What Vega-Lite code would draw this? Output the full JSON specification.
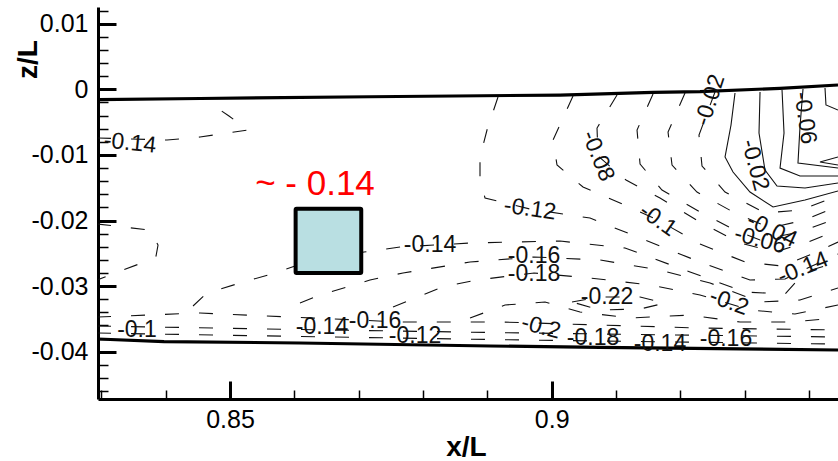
{
  "$schema": "https://vega.github.io/schema/vega-lite/v6.json",
  "width": 740,
  "height": 392,
  "autosize": {"type": "none"},
  "padding": {"left": 98, "top": 7, "right": 0, "bottom": 62},
  "background": "white",
  "config": {
    "view": {"stroke": null},
    "axis": {
      "domainColor": "black", "domainWidth": 3, "tickColor": "black", "grid": false,
      "labelFont": "Liberation Sans", "labelFontSize": 25, "labelColor": "black",
      "titleFont": "Liberation Sans", "titleFontSize": 28, "titleFontWeight": "bold", "titleColor": "black",
      "labelOverlap": false, "labelFlush": false, "labelBound": false
    }
  },
  "datasets": {
    "dashed": [
      {"c":"D1","o":1,"x":0.82933,"y":-0.00742},{"c":"D1","o":2,"x":0.84021,"y":-0.00773},{"c":"D1","o":3,"x":0.84534,"y":-0.00727},{"c":"D1","o":4,"x":0.8528,"y":-0.0062},{"c":"D1","o":5,"x":0.84984,"y":-0.00407},{"c":"D1","o":6,"x":0.84642,"y":-0.00178},
      {"c":"D2","o":1,"x":0.82933,"y":-0.02053},{"c":"D2","o":2,"x":0.83756,"y":-0.02145},{"c":"D2","o":3,"x":0.83881,"y":-0.02374},{"c":"D2","o":4,"x":0.8385,"y":-0.02541},{"c":"D2","o":5,"x":0.83585,"y":-0.02663},{"c":"D2","o":6,"x":0.83135,"y":-0.02831},{"c":"D2","o":7,"x":0.82933,"y":-0.02907},
      {"c":"D3","o":1,"x":0.84425,"y":-0.03303},{"c":"D3","o":2,"x":0.84642,"y":-0.03105},{"c":"D3","o":3,"x":0.85155,"y":-0.02953},{"c":"D3","o":4,"x":0.857,"y":-0.028},{"c":"D3","o":5,"x":0.86057,"y":-0.02678},{"c":"D3","o":6,"x":0.87083,"y":-0.0248},{"c":"D3","o":7,"x":0.87643,"y":-0.02404},{"c":"D3","o":8,"x":0.88731,"y":-0.02343},{"c":"D3","o":9,"x":0.9013,"y":-0.02313},{"c":"D3","o":10,"x":0.9114,"y":-0.02419},{"c":"D3","o":11,"x":0.92151,"y":-0.02785},{"c":"D3","o":12,"x":0.93006,"y":-0.0309},{"c":"D3","o":13,"x":0.93627,"y":-0.03121},{"c":"D3","o":14,"x":0.93938,"y":-0.02785},{"c":"D3","o":15,"x":0.94451,"y":-0.02633},
      {"c":"V5","o":1,"x":0.89166,"y":-0.00117},{"c":"V5","o":2,"x":0.88995,"y":-0.0062},{"c":"V5","o":3,"x":0.88886,"y":-0.01032},{"c":"V5","o":4,"x":0.88886,"y":-0.01383},{"c":"V5","o":5,"x":0.88964,"y":-0.01657},{"c":"V5","o":6,"x":0.89664,"y":-0.01825},{"c":"V5","o":7,"x":0.90596,"y":-0.01962},{"c":"V5","o":8,"x":0.91374,"y":-0.02267},{"c":"V5","o":9,"x":0.92306,"y":-0.02633},{"c":"V5","o":10,"x":0.93083,"y":-0.02907},{"c":"V5","o":11,"x":0.93627,"y":-0.02892},{"c":"V5","o":12,"x":0.94047,"y":-0.02694},{"c":"V5","o":13,"x":0.94451,"y":-0.02511},
      {"c":"V4","o":1,"x":0.90332,"y":-0.00102},{"c":"V4","o":2,"x":0.90021,"y":-0.00773},{"c":"V4","o":3,"x":0.90083,"y":-0.01154},{"c":"V4","o":4,"x":0.90487,"y":-0.01489},{"c":"V4","o":5,"x":0.91063,"y":-0.01733},{"c":"V4","o":6,"x":0.91653,"y":-0.01992},{"c":"V4","o":7,"x":0.92306,"y":-0.02358},{"c":"V4","o":8,"x":0.93006,"y":-0.02633},{"c":"V4","o":9,"x":0.93581,"y":-0.02694},{"c":"V4","o":10,"x":0.94047,"y":-0.02511},{"c":"V4","o":11,"x":0.94451,"y":-0.02328},
      {"c":"V3","o":1,"x":0.91016,"y":-0.00087},{"c":"V3","o":2,"x":0.90705,"y":-0.0059},{"c":"V3","o":3,"x":0.90721,"y":-0.01017},{"c":"V3","o":4,"x":0.91156,"y":-0.01383},{"c":"V3","o":5,"x":0.91684,"y":-0.01657},{"c":"V3","o":6,"x":0.92306,"y":-0.02023},{"c":"V3","o":7,"x":0.92928,"y":-0.02343},{"c":"V3","o":8,"x":0.93472,"y":-0.0248},{"c":"V3","o":9,"x":0.93985,"y":-0.02328},{"c":"V3","o":10,"x":0.94451,"y":-0.02145},
      {"c":"V2","o":1,"x":0.91576,"y":-0.00072},{"c":"V2","o":2,"x":0.91327,"y":-0.0062},{"c":"V2","o":3,"x":0.91374,"y":-0.01139},{"c":"V2","o":4,"x":0.91715,"y":-0.01535},{"c":"V2","o":5,"x":0.92306,"y":-0.0187},{"c":"V2","o":6,"x":0.9285,"y":-0.02145},{"c":"V2","o":7,"x":0.93239,"y":-0.02297},{"c":"V2","o":8,"x":0.9386,"y":-0.02175},{"c":"V2","o":9,"x":0.94451,"y":-0.01962},
      {"c":"V1","o":1,"x":0.92073,"y":-0.00056},{"c":"V1","o":2,"x":0.91809,"y":-0.00651},{"c":"V1","o":3,"x":0.91871,"y":-0.01154},{"c":"V1","o":4,"x":0.92259,"y":-0.01566},{"c":"V1","o":5,"x":0.9285,"y":-0.01886},{"c":"V1","o":6,"x":0.93394,"y":-0.02114},{"c":"V1","o":7,"x":0.93938,"y":-0.01992},{"c":"V1","o":8,"x":0.94451,"y":-0.01779},
      {"c":"V0","o":1,"x":0.92539,"y":-0.00041},{"c":"V0","o":2,"x":0.9229,"y":-0.00697},{"c":"V0","o":3,"x":0.92337,"y":-0.01169},{"c":"V0","o":4,"x":0.92695,"y":-0.01566},{"c":"V0","o":5,"x":0.93316,"y":-0.01886},{"c":"V0","o":6,"x":0.9386,"y":-0.0184},{"c":"V0","o":7,"x":0.94451,"y":-0.01627},
      {"c":"Fa","o":1,"x":0.86088,"y":-0.03258},{"c":"Fa","o":2,"x":0.86399,"y":-0.03136},{"c":"Fa","o":3,"x":0.87176,"y":-0.02907},{"c":"Fa","o":4,"x":0.87689,"y":-0.028},{"c":"Fa","o":5,"x":0.88731,"y":-0.02633},{"c":"Fa","o":6,"x":0.89726,"y":-0.02556},{"c":"Fa","o":7,"x":0.90752,"y":-0.02602},{"c":"Fa","o":8,"x":0.91684,"y":-0.02755},{"c":"Fa","o":9,"x":0.92462,"y":-0.02953},{"c":"Fa","o":10,"x":0.93239,"y":-0.03242},{"c":"Fa","o":11,"x":0.9386,"y":-0.03212},{"c":"Fa","o":12,"x":0.94451,"y":-0.03029},
      {"c":"Fb","o":1,"x":0.87534,"y":-0.03319},{"c":"Fb","o":2,"x":0.88296,"y":-0.03014},{"c":"Fb","o":3,"x":0.8884,"y":-0.02907},{"c":"Fb","o":4,"x":0.89726,"y":-0.028},{"c":"Fb","o":5,"x":0.90596,"y":-0.02876},{"c":"Fb","o":6,"x":0.91529,"y":-0.02983},{"c":"Fb","o":7,"x":0.92306,"y":-0.03136},{"c":"Fb","o":8,"x":0.93083,"y":-0.03364},{"c":"Fb","o":9,"x":0.93782,"y":-0.03425},{"c":"Fb","o":10,"x":0.94451,"y":-0.03288},
      {"c":"Fc","o":1,"x":0.88731,"y":-0.03486},{"c":"Fc","o":2,"x":0.89275,"y":-0.03288},{"c":"Fc","o":3,"x":0.89897,"y":-0.03242},{"c":"Fc","o":4,"x":0.90441,"y":-0.03395},{"c":"Fc","o":5,"x":0.91218,"y":-0.03486},{"c":"Fc","o":6,"x":0.92151,"y":-0.03441},{"c":"Fc","o":7,"x":0.92928,"y":-0.03547},{"c":"Fc","o":8,"x":0.93705,"y":-0.03547},{"c":"Fc","o":9,"x":0.94451,"y":-0.03486},
      {"c":"L22","o":1,"x":0.90316,"y":-0.03242},{"c":"L22","o":2,"x":0.90752,"y":-0.03166},{"c":"L22","o":3,"x":0.91374,"y":-0.03166},{"c":"L22","o":4,"x":0.91762,"y":-0.03258},{"c":"L22","o":5,"x":0.91374,"y":-0.03349},{"c":"L22","o":6,"x":0.90752,"y":-0.03364},{"c":"L22","o":7,"x":0.90316,"y":-0.03242},
      {"c":"W1","o":1,"x":0.82933,"y":-0.03715},{"c":"W1","o":2,"x":0.86088,"y":-0.03768},{"c":"W1","o":3,"x":0.89042,"y":-0.03814},{"c":"W1","o":4,"x":0.90752,"y":-0.03837},{"c":"W1","o":5,"x":0.94451,"y":-0.03883},
      {"c":"W2","o":1,"x":0.82933,"y":-0.03608},{"c":"W2","o":2,"x":0.86088,"y":-0.03662},{"c":"W2","o":3,"x":0.89042,"y":-0.03707},{"c":"W2","o":4,"x":0.90752,"y":-0.0373},{"c":"W2","o":5,"x":0.94451,"y":-0.03776},
      {"c":"W3","o":1,"x":0.82933,"y":-0.03471},{"c":"W3","o":2,"x":0.84534,"y":-0.0341},{"c":"W3","o":3,"x":0.85933,"y":-0.03471},{"c":"W3","o":4,"x":0.87643,"y":-0.03547},{"c":"W3","o":5,"x":0.89197,"y":-0.03547},{"c":"W3","o":6,"x":0.90752,"y":-0.03593},{"c":"W3","o":7,"x":0.92306,"y":-0.03639},{"c":"W3","o":8,"x":0.94451,"y":-0.03669}
    ],
    "solid": [
      {"c":"S1","o":1,"x":0.9285,"y":-0.00056},{"c":"S1","o":2,"x":0.92788,"y":-0.00544},{"c":"S1","o":3,"x":0.92695,"y":-0.01032},{"c":"S1","o":4,"x":0.92819,"y":-0.01261},{"c":"S1","o":5,"x":0.93083,"y":-0.01566},{"c":"S1","o":6,"x":0.93441,"y":-0.01794},{"c":"S1","o":7,"x":0.93938,"y":-0.01688},{"c":"S1","o":8,"x":0.94451,"y":-0.0155},
      {"c":"S2","o":1,"x":0.93239,"y":-0.00041},{"c":"S2","o":2,"x":0.93223,"y":-0.00666},{"c":"S2","o":3,"x":0.93316,"y":-0.0123},{"c":"S2","o":4,"x":0.93503,"y":-0.01474},{"c":"S2","o":5,"x":0.93938,"y":-0.01505},{"c":"S2","o":6,"x":0.94451,"y":-0.01428},
      {"c":"S3","o":1,"x":0.93581,"y":-0.00011},{"c":"S3","o":2,"x":0.93612,"y":-0.00666},{"c":"S3","o":3,"x":0.9355,"y":-0.012},{"c":"S3","o":4,"x":0.9386,"y":-0.01322},{"c":"S3","o":5,"x":0.94451,"y":-0.01322},
      {"c":"S4","o":1,"x":0.93907,"y":0.00005},{"c":"S4","o":2,"x":0.9386,"y":-0.00575},{"c":"S4","o":3,"x":0.93829,"y":-0.01123},{"c":"S4","o":4,"x":0.94451,"y":-0.012},
      {"c":"S5","o":1,"x":0.94249,"y":0.0002},{"c":"S5","o":2,"x":0.94264,"y":-0.00239},{"c":"S5","o":3,"x":0.94451,"y":-0.00316},
      {"c":"S6","o":1,"x":0.94451,"y":-0.01032},{"c":"S6","o":2,"x":0.94171,"y":-0.01108},{"c":"S6","o":3,"x":0.94451,"y":-0.01154}
    ],
    "walls": [
      {"c":"top","o":1,"x":0.82933,"y":-0.00156},{"c":"top","o":2,"x":0.84534,"y":-0.0014},{"c":"top","o":3,"x":0.87176,"y":-0.00113},{"c":"top","o":4,"x":0.9013,"y":-0.00087},{"c":"top","o":5,"x":0.91576,"y":-0.00046},{"c":"top","o":6,"x":0.92306,"y":-0.00034},{"c":"top","o":7,"x":0.9355,"y":0.00015},{"c":"top","o":8,"x":0.94451,"y":0.00066},
      {"c":"bottom","o":1,"x":0.82933,"y":-0.03806},{"c":"bottom","o":2,"x":0.83974,"y":-0.03845},{"c":"bottom","o":3,"x":0.86088,"y":-0.03867},{"c":"bottom","o":4,"x":0.89042,"y":-0.03913},{"c":"bottom","o":5,"x":0.90752,"y":-0.03933},{"c":"bottom","o":6,"x":0.94451,"y":-0.03974}
    ],
    "box": [{"x":0.8602,"x2":0.8704,"y":-0.0182,"y2":-0.028}],
    "labels": [
      {"x":0.83446,"y":-0.00819,"t":"-0.14","a":6},
      {"x":0.83554,"y":-0.03669,"t":"-0.1","a":0},
      {"x":0.8643,"y":-0.03624,"t":"-0.14","a":0},
      {"x":0.87254,"y":-0.03532,"t":"-0.16","a":0},
      {"x":0.87876,"y":-0.03761,"t":"-0.12","a":0},
      {"x":0.89835,"y":-0.03624,"t":"-0.2","a":15},
      {"x":0.90643,"y":-0.03791,"t":"-0.18","a":0},
      {"x":0.91684,"y":-0.03883,"t":"-0.14","a":0},
      {"x":0.9271,"y":-0.03806,"t":"-0.16","a":0},
      {"x":0.88109,"y":-0.02374,"t":"-0.14","a":0},
      {"x":0.89664,"y":-0.01825,"t":"-0.12","a":8},
      {"x":0.89726,"y":-0.02541,"t":"-0.16","a":0},
      {"x":0.89726,"y":-0.02815,"t":"-0.18","a":0},
      {"x":0.90861,"y":-0.03166,"t":"-0.22","a":0},
      {"x":0.92757,"y":-0.03242,"t":"-0.2","a":20},
      {"x":0.91653,"y":-0.01992,"t":"-0.1","a":35},
      {"x":0.90721,"y":-0.01017,"t":"-0.08","a":68},
      {"x":0.92462,"y":-0.00163,"t":"-0.02","a":-72},
      {"x":0.93161,"y":-0.01154,"t":"-0.02","a":75},
      {"x":0.93938,"y":-0.00438,"t":"-0.06","a":82},
      {"x":0.93239,"y":-0.02297,"t":"-0.06","a":15},
      {"x":0.93425,"y":-0.02145,"t":"-0.04","a":25},
      {"x":0.93907,"y":-0.02724,"t":"-0.14","a":-22}
    ],
    "note": [{"x":0.86321,"y":-0.01444,"t":"~ - 0.14"}]
  },
  "encoding": {
    "x": {
      "field": "x", "type": "quantitative",
      "scale": {"domain": [0.82948, 0.94451], "nice": false, "zero": false},
      "axis": {
        "title": "x/L",
        "values": [0.83, 0.84, 0.85, 0.86, 0.87, 0.88, 0.89, 0.9, 0.91, 0.92, 0.93, 0.94],
        "labelExpr": "abs(datum.value*20-round(datum.value*20))<0.001 ? toString(round(datum.value*100)/100) : ''",
        "tickSize": {"condition": {"test": "abs(datum.value*20-round(datum.value*20))<0.001", "value": -18}, "value": -9},
        "tickWidth": {"condition": {"test": "abs(datum.value*20-round(datum.value*20))<0.001", "value": 3}, "value": 1.5},
        "labelPadding": 26,
        "titleX": 368, "titleY": 48, "titleAlign": "center", "titleBaseline": "middle"
      }
    },
    "y": {
      "field": "y", "type": "quantitative",
      "scale": {"domain": [-0.04721, 0.01255], "nice": false, "zero": false},
      "axis": {
        "title": "z/L",
        "values": [-0.046, -0.044, -0.042, -0.04, -0.038, -0.036, -0.034, -0.032, -0.03, -0.028, -0.026, -0.024, -0.022, -0.02, -0.018, -0.016, -0.014, -0.012, -0.01, -0.008, -0.006, -0.004, -0.002, 0, 0.002, 0.004, 0.006, 0.008, 0.01, 0.012],
        "labelExpr": "abs(datum.value*100-round(datum.value*100))<0.001 ? toString(round(datum.value*100)/100) : ''",
        "tickSize": {"condition": {"test": "abs(datum.value*100-round(datum.value*100))<0.001", "value": -18}, "value": -10},
        "tickWidth": {"condition": {"test": "abs(datum.value*100-round(datum.value*100))<0.001", "value": 3}, "value": 1.5},
        "labelPadding": 28,
        "titleX": -70, "titleY": 52, "titleAlign": "center", "titleBaseline": "middle", "titleAngle": -90
      }
    }
  },
  "layer": [
    {
      "data": {"name": "dashed"},
      "mark": {"type": "line", "strokeDash": [14, 20], "strokeWidth": 1.1, "color": "#111111", "clip": true},
      "encoding": {"detail": {"field": "c"}, "order": {"field": "o", "type": "quantitative"}}
    },
    {
      "data": {"name": "solid"},
      "mark": {"type": "line", "strokeWidth": 1.1, "color": "#111111", "clip": true},
      "encoding": {"detail": {"field": "c"}, "order": {"field": "o", "type": "quantitative"}}
    },
    {
      "data": {"name": "walls"},
      "mark": {"type": "line", "strokeWidth": 3.2, "color": "#000000", "clip": true},
      "encoding": {"detail": {"field": "c"}, "order": {"field": "o", "type": "quantitative"}}
    },
    {
      "data": {"name": "box"},
      "mark": {"type": "rect", "fill": "#b9dfe2", "stroke": "#000000", "strokeWidth": 4, "cornerRadius": 1},
      "encoding": {"x2": {"field": "x2"}, "y2": {"field": "y2"}}
    },
    {
      "data": {"name": "labels"},
      "mark": {"type": "text", "font": "Liberation Sans", "fontSize": 23, "align": "center", "baseline": "middle", "color": "#111111"},
      "encoding": {"text": {"field": "t"}, "angle": {"field": "a", "type": "quantitative", "scale": null}}
    },
    {
      "data": {"name": "note"},
      "mark": {"type": "text", "font": "Liberation Sans", "fontSize": 35, "align": "center", "baseline": "middle", "color": "#ff0000"},
      "encoding": {"text": {"field": "t"}}
    }
  ]
}
